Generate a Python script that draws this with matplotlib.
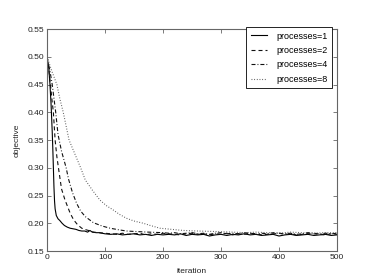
import matplotlib
matplotlib.use("Agg")
import matplotlib.pyplot as plt

# ---- data ----
tail_iter = list(range(110, 510, 10))

p1_iter = [0, 3, 5, 7, 9, 10, 11, 12, 13, 14, 16, 19, 22, 26, 30, 35, 40, 45, 50,
           55, 60, 65, 70, 74, 78, 85, 90, 95, 100] + tail_iter
p1_obj = [0.500, 0.480, 0.452, 0.415, 0.365, 0.335, 0.300, 0.265, 0.240, 0.226,
          0.214, 0.208, 0.205, 0.200, 0.196, 0.193, 0.191, 0.190, 0.189,
          0.187, 0.186, 0.186, 0.184, 0.187, 0.184, 0.183, 0.183, 0.182, 0.181,
          0.180, 0.181, 0.179, 0.180, 0.181, 0.179, 0.180, 0.178, 0.180, 0.179,
          0.180, 0.179, 0.181, 0.178, 0.180, 0.179, 0.180, 0.177, 0.179, 0.180,
          0.178, 0.180, 0.179, 0.181, 0.179, 0.180, 0.178, 0.179, 0.180, 0.177,
          0.179, 0.180, 0.178, 0.179, 0.180, 0.178, 0.179, 0.180, 0.178, 0.179]

p2_iter = [0, 3, 6, 9, 11, 14, 17, 20, 25, 31, 40, 46, 53, 60, 68, 75, 80, 90,
           100] + tail_iter
p2_obj = [0.500, 0.478, 0.450, 0.418, 0.400, 0.350, 0.320, 0.298, 0.262, 0.242,
          0.218, 0.206, 0.197, 0.191, 0.188, 0.186, 0.184, 0.183, 0.182,
          0.181, 0.180, 0.182, 0.180, 0.181, 0.182, 0.179, 0.181, 0.180, 0.182,
          0.181, 0.180, 0.179, 0.181, 0.182, 0.180, 0.181, 0.179, 0.181, 0.180,
          0.182, 0.179, 0.181, 0.180, 0.182, 0.181, 0.179, 0.180, 0.181, 0.182,
          0.180, 0.181, 0.179, 0.180, 0.182, 0.181, 0.180, 0.179, 0.181, 0.180]

p4_iter = [0, 5, 9, 15, 19, 25, 33, 37, 44, 51, 58, 66, 80, 95, 109, 125, 137,
           155, 175, 200] + list(range(210, 510, 10))
p4_obj = [0.500, 0.475, 0.450, 0.400, 0.360, 0.330, 0.300, 0.280, 0.255, 0.236,
          0.222, 0.212, 0.201, 0.195, 0.191, 0.188, 0.186, 0.185, 0.184, 0.183,
          0.182, 0.183, 0.181, 0.182, 0.183, 0.181, 0.182, 0.180, 0.182, 0.183,
          0.181, 0.182, 0.181, 0.183, 0.182, 0.180, 0.182, 0.181, 0.183, 0.182,
          0.181, 0.182, 0.180, 0.181, 0.183, 0.182, 0.181, 0.182, 0.181, 0.182]

p8_iter = [0, 8, 17, 22, 28, 33, 38, 48, 58, 66, 78, 91, 102, 114, 125, 137, 150,
           166, 178, 195, 215, 235, 260, 293, 320, 343, 360, 380, 400, 420, 440,
           460, 480, 500]
p8_obj = [0.500, 0.475, 0.450, 0.425, 0.400, 0.375, 0.350, 0.325, 0.300, 0.278,
          0.260, 0.242, 0.232, 0.224, 0.216, 0.209, 0.204, 0.200, 0.196, 0.191,
          0.189, 0.187, 0.186, 0.185, 0.184, 0.183, 0.184, 0.183, 0.182, 0.184,
          0.183, 0.182, 0.183, 0.183]

labels = ["processes=1", "processes=2", "processes=4", "processes=8"]
x_ticks = [0, 100, 200, 300, 400, 500]
y_ticks = [0.15, 0.20, 0.25, 0.30, 0.35, 0.40, 0.45, 0.50, 0.55]

plt.rcParams["font.family"] = ["Liberation Sans", "DejaVu Sans"]

fig = plt.figure(figsize=(3.74, 2.80), dpi=100)
ax = fig.add_axes([47 / 374, 29 / 280, 290 / 374, 222 / 280])

lw = 0.8
ax.plot(p1_iter, p1_obj, color="black", lw=lw, label=labels[0])
ax.plot(p2_iter, p2_obj, color="#111111", lw=lw, dashes=(3.6, 2.7), label=labels[1])
ax.plot(p4_iter, p4_obj, color="#111111", lw=lw, dashes=(3.6, 1.8, 0.8, 1.8), label=labels[2])
ax.plot(p8_iter, p8_obj, color="#555555", lw=lw, dashes=(0.8, 1.6), label=labels[3])

ax.set_xlim(0, 500)
ax.set_ylim(0.15, 0.55)
ax.set_xticks(x_ticks)
ax.set_yticks(y_ticks)
ax.set_yticklabels([f"{v:.2f}" for v in y_ticks])

for sp in ax.spines.values():
    sp.set_color("#666666")
    sp.set_linewidth(0.8)
ax.tick_params(direction="in", top=True, right=True, length=3, width=0.6,
               color="#666666", labelsize=6, labelcolor="#222222", pad=2)

ax.set_xlabel("iteration", fontsize=6, color="#222222")
ax.set_ylabel("objective", fontsize=6, color="#222222")
ax.xaxis.set_label_coords(0.5, (251 - 268) / 222)
ax.yaxis.set_label_coords((21 - 47) / 290, 0.5)

leg = ax.legend(loc="upper right", bbox_to_anchor=(332 / 374, 1 - 27 / 280),
                bbox_transform=fig.transFigure, borderaxespad=0, fontsize=6.5,
                fancybox=False, framealpha=1, edgecolor="black",
                handlelength=1.8, handletextpad=1.0, labelspacing=0.6,
                borderpad=0.5)
leg.get_frame().set_linewidth(0.6)

fig.savefig("out.png", dpi=100)
